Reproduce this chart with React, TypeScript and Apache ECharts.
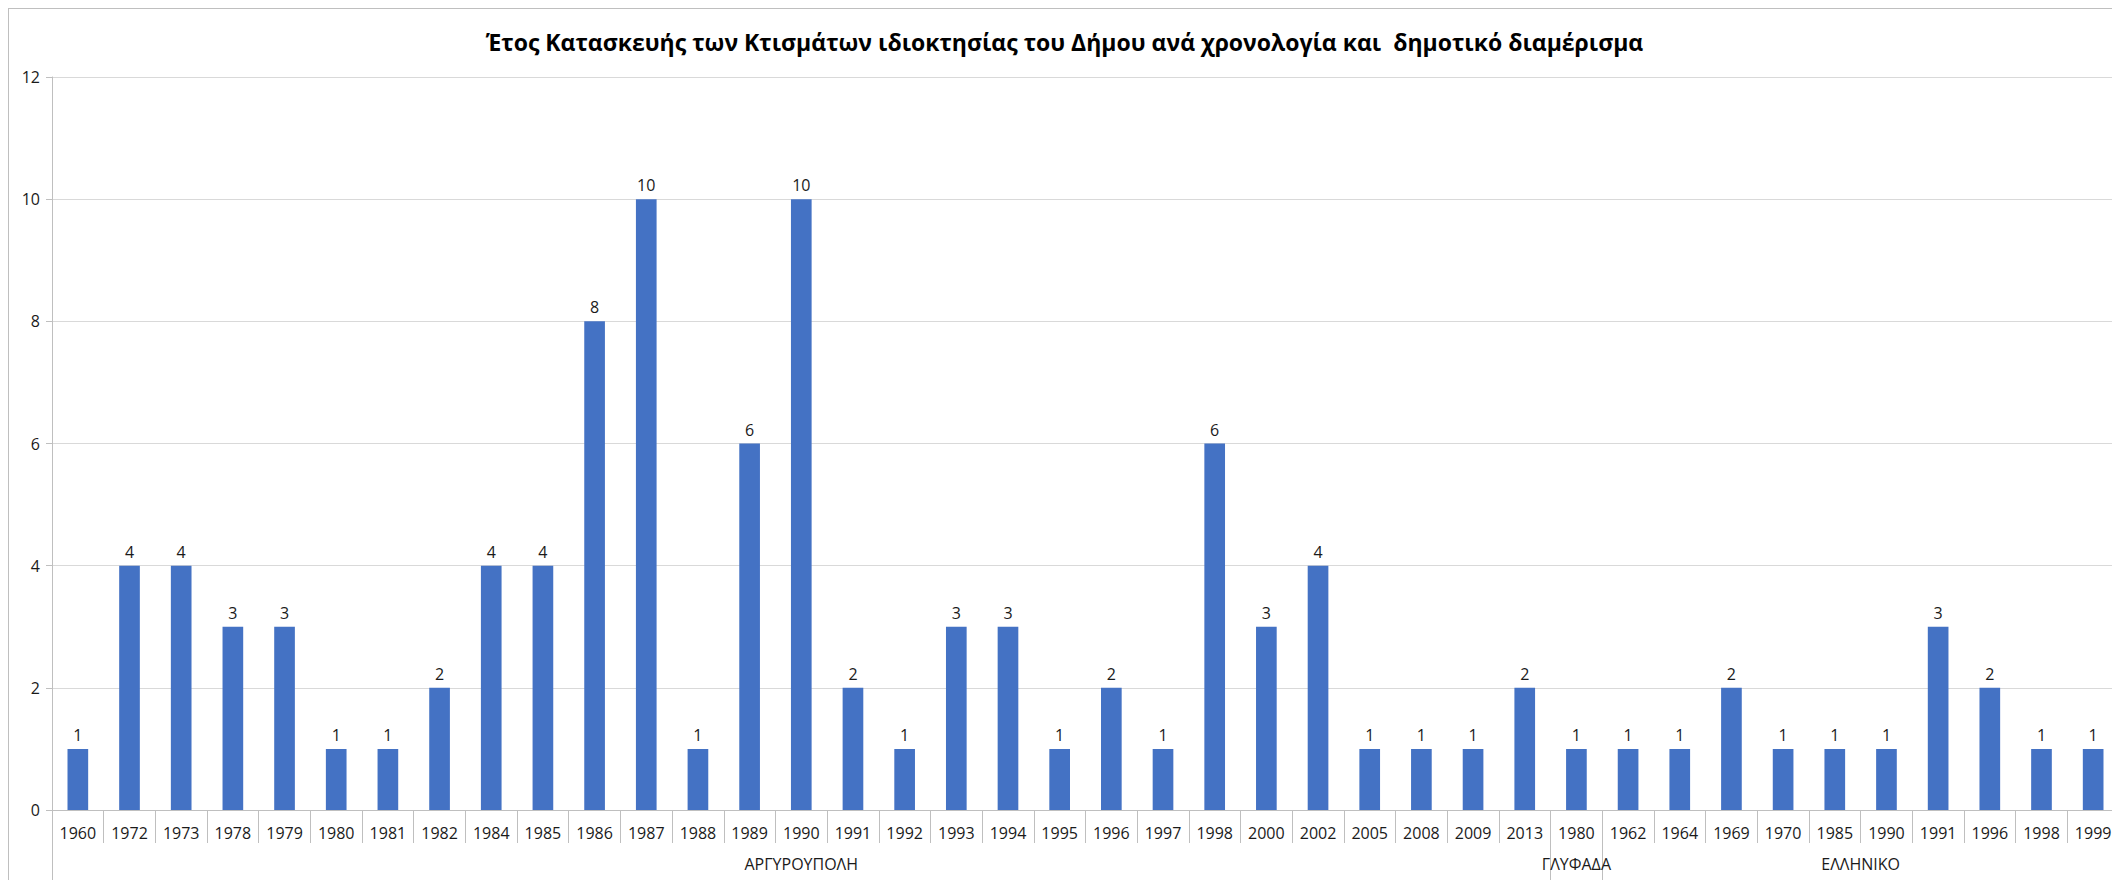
import React, { useEffect, useRef } from "react";
import * as echarts from "echarts";

const TITLE = "Έτος Κατασκευής των Κτισμάτων ιδιοκτησίας του Δήμου ανά χρονολογία και  δημοτικό διαμέρισμα";

const groupNames = ["ΑΡΓΥΡΟΥΠΟΛΗ", "ΓΛΥΦΑΔΑ", "ΕΛΛΗΝΙΚΟ"];

const argyroupoliYears = ["1960", "1972", "1973", "1978", "1979", "1980", "1981", "1982", "1984", "1985", "1986", "1987", "1988", "1989", "1990", "1991", "1992", "1993", "1994", "1995", "1996", "1997", "1998", "2000", "2002", "2005", "2008", "2009", "2013"];
const argyroupoliValues = [1, 4, 4, 3, 3, 1, 1, 2, 4, 4, 8, 10, 1, 6, 10, 2, 1, 3, 3, 1, 2, 1, 6, 3, 4, 1, 1, 1, 2];

const glyfadaYears = ["1980"];
const glyfadaValues = [1];

const ellinikoYears = ["1962", "1964", "1969", "1970", "1985", "1990", "1991", "1996", "1998", "1999"];
const ellinikoValues = [1, 1, 2, 1, 1, 1, 3, 2, 1, 1];

const yTicks = { min: 0, max: 12, interval: 2 };

export default function App() {
  const ref = useRef<HTMLDivElement>(null);

  useEffect(() => {
    if (!ref.current) return;
    const chart = echarts.init(ref.current, undefined, { renderer: "svg" });

    const groupYears = [argyroupoliYears, glyfadaYears, ellinikoYears];
    const groupValues = [argyroupoliValues, glyfadaValues, ellinikoValues];
    const categories = groupYears.flat();
    const values = groupValues.flat();
    const total = categories.length;

    const boundaries: number[] = [0];
    const centers: number[] = [];
    let acc = 0;
    groupYears.forEach((g) => {
      centers.push(acc + g.length / 2);
      acc += g.length;
      boundaries.push(acc);
    });
    const centerName = (v: number) => {
      const i = centers.findIndex((c) => Math.abs(c - v) < 1e-6);
      return i >= 0 ? groupNames[i] : "";
    };

    const font = "'Open Sans', 'Liberation Sans', sans-serif";
    const textColor = "#1a1a1a";

    chart.setOption({
      animation: false,
      title: {
        text: TITLE,
        left: "center",
        top: 16,
        textStyle: { fontFamily: "'Open Sans', sans-serif", fontWeight: "bold", fontSize: 23, color: "#000" },
      },
      grid: { left: 43, right: 1, top: 68, bottom: 70, containLabel: false },
      xAxis: [
        {
          type: "category",
          data: categories,
          boundaryGap: true,
          axisLine: { show: true, lineStyle: { color: "#bfbfbf", width: 1 } },
          axisTick: { show: true, interval: 0, length: 33, alignWithLabel: false, lineStyle: { color: "#bfbfbf" } },
          axisLabel: { interval: 0, margin: 15, fontFamily: font, fontSize: 16, color: textColor },
          splitLine: { show: false },
        },
        {
          type: "value",
          min: 0,
          max: total,
          position: "bottom",
          axisLine: { show: false },
          axisTick: { show: true, customValues: boundaries, length: 80, lineStyle: { color: "#bfbfbf" } },
          axisLabel: {
            show: true,
            customValues: centers,
            margin: 46,
            fontFamily: font,
            fontSize: 16,
            color: textColor,
            formatter: (v: number) => centerName(v),
          },
          splitLine: { show: false },
        },
      ],
      yAxis: {
        type: "value",
        min: yTicks.min,
        max: yTicks.max,
        interval: yTicks.interval,
        axisLine: { show: true, lineStyle: { color: "#bfbfbf" } },
        axisTick: { show: true, length: 6, lineStyle: { color: "#bfbfbf" } },
        axisLabel: { margin: 12, fontFamily: font, fontSize: 16, color: textColor },
        splitLine: { show: true, lineStyle: { color: "#d9d9d9", width: 1 } },
      },
      series: [
        {
          type: "bar",
          xAxisIndex: 0,
          data: values,
          barWidth: "40%",
          itemStyle: { color: "#4472C4" },
          label: { show: true, position: "top", distance: 6, fontFamily: font, fontSize: 16, color: textColor },
        },
      ],
    });

    return () => chart.dispose();
  }, []);

  return (
    <div
      ref={ref}
      style={{
        width: 2112,
        height: 872,
        boxSizing: "border-box",
        borderTop: "1px solid #bfbfbf",
        borderLeft: "1px solid #bfbfbf",
      }}
    />
  );
}
